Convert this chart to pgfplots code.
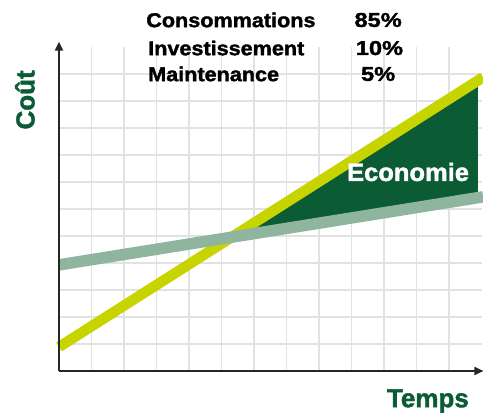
\documentclass[border=0pt]{standalone}
\usepackage{fontspec}
\setmainfont{Liberation Sans}[BoldFeatures={FakeBold=1.6}]
\usepackage{pgfplots}
\pgfplotsset{compat=1.18}
\usetikzlibrary{arrows.meta}
\definecolor{ylw}{HTML}{C8D400}
\definecolor{sage}{HTML}{8FB59E}
\definecolor{dkgreen}{HTML}{0B5C35}
\definecolor{gridc}{HTML}{E2E2E2}
\begin{document}
\begin{tikzpicture}
\begin{axis}[
  at={(0,0)}, anchor=south west,
  scale only axis, width=422.5bp, height=324bp,
  xmin=0, xmax=13, ymin=0, ymax=12,
  xtick={1,...,12}, ytick={1,...,11},
  xticklabels={}, yticklabels={},
  grid=major, major grid style={gridc, line width=1.4bp},
  major tick length=0pt,
  axis line style={draw=none},
  clip=false,
]
% savings area
\addplot[fill=dkgreen, draw=none] coordinates {(5.305,4.95) (12.89,10.76) (12.89,6.42) (5.305,4.95)};
% investment line (yellow)
\addplot[ylw, line width=10.5bp, line cap=butt] coordinates {(0,0.89) (13.05,10.88)};
% reference line (sage)
\addplot[sage, line width=11.5bp, line cap=butt] coordinates {(0,3.93) (13.05,6.45)};
% axes
\draw[black!85, line width=1.8bp, -{Triangle[length=9bp,width=8bp]}] (axis cs:0,0) -- (axis cs:13.06,0);
\draw[black!85, line width=1.8bp, -{Triangle[length=9bp,width=8bp]}] (axis cs:0,0) -- (axis cs:0,12.2);
% texts
\node[anchor=west, font=\bfseries\fontsize{20bp}{22bp}\selectfont, inner sep=0pt] at (axis cs:2.68,13.0) {\scalebox{1.08}[1]{Consommations}};
\node[anchor=west, font=\bfseries\fontsize{20bp}{22bp}\selectfont, inner sep=0pt] at (axis cs:2.74,11.96) {\scalebox{1.08}[1]{Investissement}};
\node[anchor=west, font=\bfseries\fontsize{20bp}{22bp}\selectfont, inner sep=0pt] at (axis cs:2.74,11.0) {\scalebox{1.08}[1]{Maintenance}};
\node[font=\bfseries\fontsize{20bp}{22bp}\selectfont, inner sep=0pt] at (axis cs:9.82,13.0) {\scalebox{1.18}[1]{85\%}};
\node[font=\bfseries\fontsize{20bp}{22bp}\selectfont, inner sep=0pt] at (axis cs:9.86,11.96) {\scalebox{1.18}[1]{10\%}};
\node[font=\bfseries\fontsize{20bp}{22bp}\selectfont, inner sep=0pt] at (axis cs:9.82,11.0) {\scalebox{1.18}[1]{5\%}};
\node[rotate=90, text=dkgreen, font=\bfseries\fontsize{26bp}{28bp}\selectfont, inner sep=0pt] at (axis cs:-1.05,10.04) {Coût};
\node[text=dkgreen, font=\bfseries\fontsize{26bp}{28bp}\selectfont, inner sep=0pt] at (axis cs:11.35,-1.11) {Temps};
\node[text=white, font=\bfseries\fontsize{25bp}{27bp}\selectfont, inner sep=0pt] at (axis cs:10.74,7.37) {\scalebox{1.02}[1]{Economie}};
\end{axis}
\pgfresetboundingbox
\path[use as bounding box] (-59bp,-45bp) rectangle (424bp,371bp);
\end{tikzpicture}
\end{document}
